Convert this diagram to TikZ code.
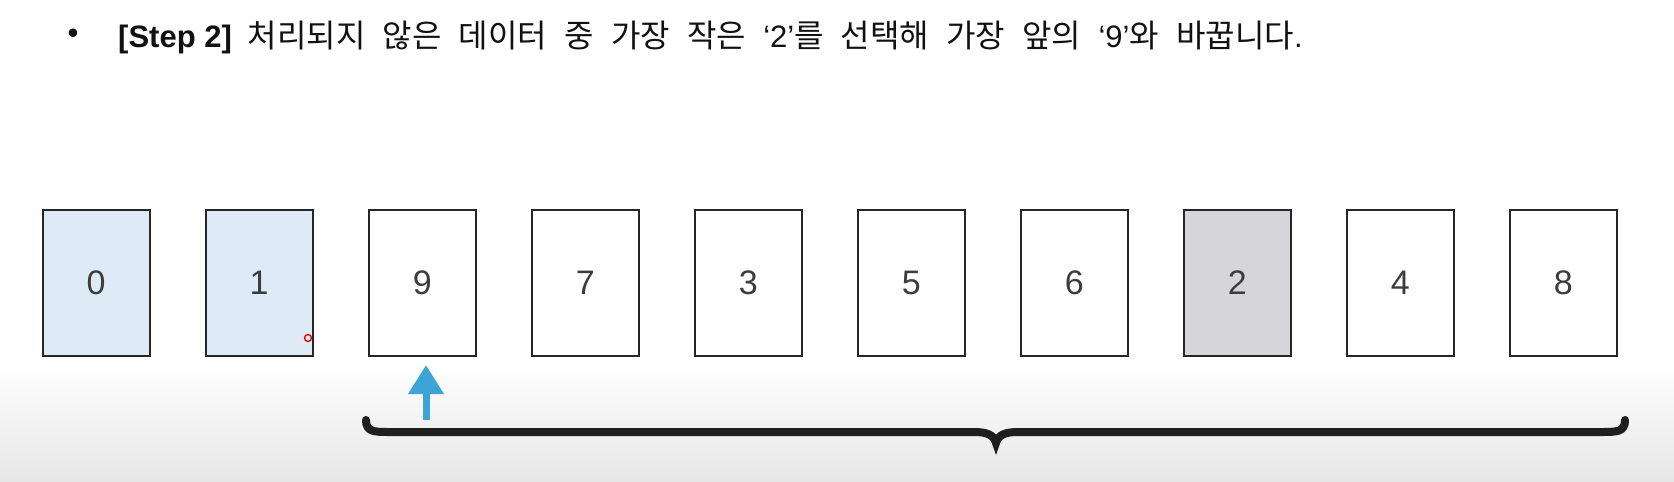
\documentclass[tikz,border=0pt]{standalone}
\usepackage{fontspec}
\setmainfont{Liberation Sans}
\newfontfamily\kr[WordSpace=2.4]{Noto Sans CJK KR}
\usetikzlibrary{arrows.meta}
\definecolor{done}{HTML}{DEEBF6}
\definecolor{sel}{HTML}{D6D6D9}
\definecolor{arr}{HTML}{3DA5D6}
\definecolor{edge}{HTML}{262626}
\definecolor{digit}{HTML}{3C3C3C}
\definecolor{bot}{HTML}{E6E6E6}
\definecolor{ink}{HTML}{111111}
\tikzset{
  card/.style={draw=edge,line width=1.8pt,minimum width=107pt,minimum height=146pt,inner sep=0pt,
    font=\fontsize{34}{34}\selectfont,text=digit},
  bracestroke/.style={draw=black!88,line width=8pt,line cap=round,line join=miter},
  uparrow/.style={draw=arr,line width=7pt,-{Triangle[width=34pt,length=29pt]}},
  headline/.style={font=\fontsize{31}{31}\selectfont,text=ink,inner sep=0pt}
}
\newcommand{\hg}[1]{{\kr\fontsize{32}{32}\selectfont #1}}
\begin{document}
\begin{tikzpicture}[x=1pt,y=-1pt]
\useasboundingbox (0,0) rectangle (1674,482);
\fill[white] (0,0) rectangle (1674,482);
\shade[top color=white,bottom color=bot] (0,365) rectangle (1674,482);

\node[headline] (bul) at (73,36) {•};
\node[headline,anchor=base west] (title) at (118,47)
  {\textbf{[Step 2]}\hspace{16pt}\hg{처리되지 않은 데이터 중 가장 작은 }‘2’\hg{를 선택해 가장 앞의 }‘9’\hg{와 바꿉니다}.};

\foreach \i/\v/\f in {0/0/done,1/1/done,2/9/white,3/7/white,4/3/white,5/5/white,6/6/white,7/2/sel,8/4/white,9/8/white}{
  \node[card,fill=\f] (c\i) at ({96.2+163*\i},283) {\v};
}

\node[circle,draw=red!85!black,line width=1.3pt,minimum size=7pt,inner sep=0pt,fill=red!10] (cursor) at (308,338) {};

\coordinate (as) at (426,420);
\coordinate (ae) at (426,365);
\draw[uparrow] (as) -- (ae);

\coordinate (bl) at (366,420);
\coordinate (bm) at (996,443);
\coordinate (br) at (1625,420);
\path[bracestroke] (bl) .. controls (366,432) and (374,432) .. (390,432) -- (974,432)
  .. controls (987,432) and (994,435) .. (bm)
  .. controls (998,435) and (1005,432) .. (1018,432) -- (1601,432)
  .. controls (1617,432) and (1625,432) .. (br);
\end{tikzpicture}
\end{document}
